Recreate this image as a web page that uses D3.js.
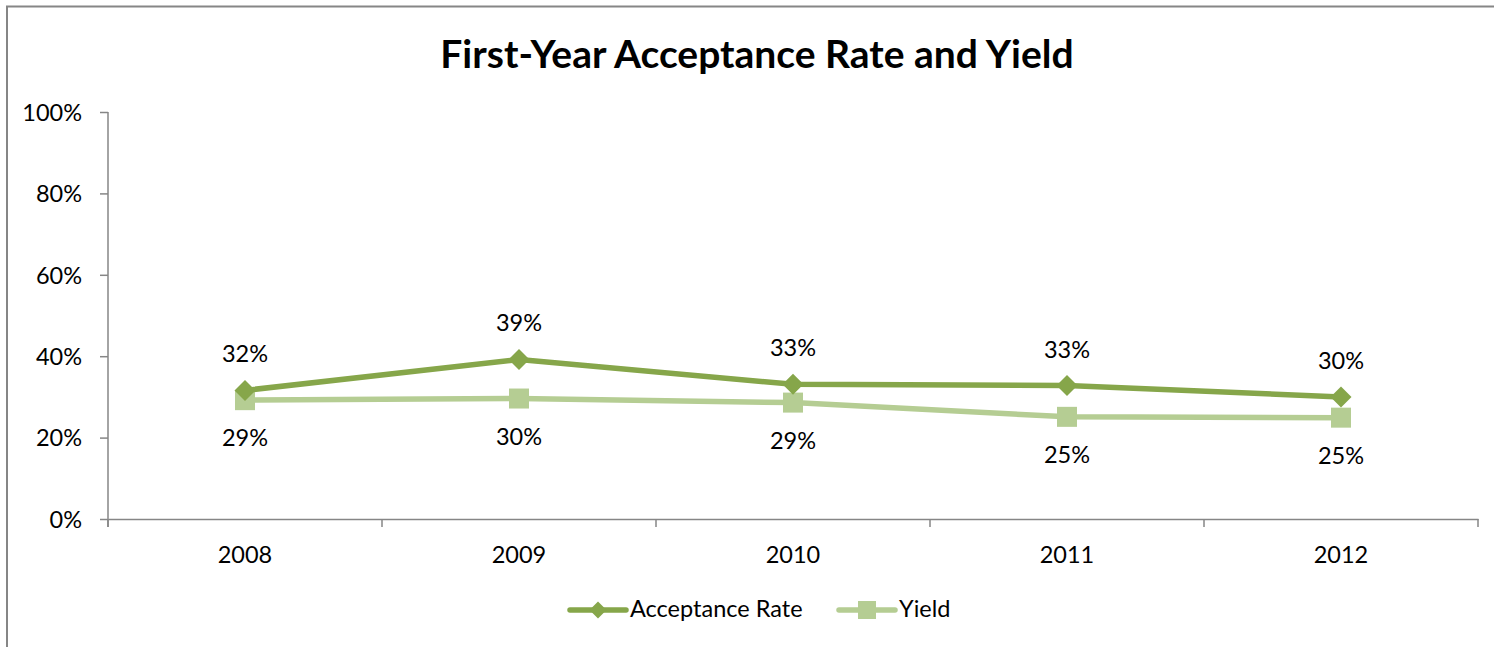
<!DOCTYPE html>
<html><head><meta charset="utf-8">
<script src="https://cdn.jsdelivr.net/npm/d3@7"></script>
<style>
body{margin:0;background:#fff}
svg{display:block}
text{font-family:Lato,'Open Sans',sans-serif;fill:#000}
</style></head>
<body><svg id="c" width="1494" height="647"></svg>
<script>
const title = "First-Year Acceptance Rate and Yield";
const years = ["2008","2009","2010","2011","2012"];
const acceptance = [0.316,0.392,0.331,0.328,0.300];
const yieldRate = [0.292,0.296,0.286,0.251,0.249];
const yTicks = [0,0.2,0.4,0.6,0.8,1.0];
const seriesNames = ["Acceptance Rate","Yield"];
const colors = ["#86A64A","#B5CD93"];

(function(){
const svg = d3.select("#c");
const pL = 108, pR = 1478, pT = 112, pB = 519;
const fs = "23.5px";

// chart border
svg.append("rect").attr("x",7).attr("y",6.5).attr("width",1500).attr("height",700)
  .attr("fill","#fff").attr("stroke","#868686").attr("stroke-width",2);

svg.append("text").attr("x",757).attr("y",68).attr("text-anchor","middle")
  .style("font-size","39px").style("font-weight","bold").text(title);

const x = d3.scaleBand().domain(years).range([pL,pR]);
const y = d3.scaleLinear().domain([0,1]).range([pB,pT]);
const cx = d => x(d) + x.bandwidth()/2;
const fmt = d3.format(".0%");

// y axis
const yAxis = svg.append("g").attr("transform",`translate(${pL},0)`)
  .call(d3.axisLeft(y).tickValues(yTicks).tickFormat(fmt).tickSize(8).tickPadding(18));
yAxis.select(".domain").remove();
yAxis.selectAll(".tick line").attr("stroke","#868686").attr("stroke-width",1.5);
yAxis.selectAll(".tick text").style("font-size",fs).attr("dy","0.35em");
svg.append("line").attr("x1",pL).attr("x2",pL).attr("y1",pT).attr("y2",pB+8)
  .attr("stroke","#868686").attr("stroke-width",1.5);

// x axis
const xAxis = svg.append("g").attr("transform",`translate(0,${pB})`)
  .call(d3.axisBottom(x).tickSize(0).tickPadding(27));
xAxis.select(".domain").attr("stroke","#868686").attr("stroke-width",1.5);
xAxis.selectAll(".tick text").style("font-size",fs);
const bounds = years.map(d => x(d)).concat([pR]);
svg.append("g").selectAll("line").data(bounds).join("line")
  .attr("x1",d=>d).attr("x2",d=>d).attr("y1",pB).attr("y2",pB+8)
  .attr("stroke","#868686").attr("stroke-width",1.5);

const line = d3.line().x((d,i)=>cx(years[i])).y(d=>y(d));

// yield series
svg.append("path").datum(yieldRate).attr("d",line).attr("fill","none")
  .attr("stroke",colors[1]).attr("stroke-width",5.5).attr("stroke-linejoin","round");
svg.append("g").selectAll("rect").data(yieldRate).join("rect")
  .attr("x",(d,i)=>cx(years[i])-10).attr("y",d=>y(d)-10).attr("width",20).attr("height",20)
  .attr("fill",colors[1]);

// acceptance series
svg.append("path").datum(acceptance).attr("d",line).attr("fill","none")
  .attr("stroke",colors[0]).attr("stroke-width",5.5).attr("stroke-linejoin","round");
const diamond = s => `M0,${-s}L${s},0L0,${s}L${-s},0Z`;
svg.append("g").selectAll("path").data(acceptance).join("path")
  .attr("transform",(d,i)=>`translate(${cx(years[i])},${y(d)})`)
  .attr("d",diamond(10.5)).attr("fill",colors[0]);

// labels
svg.append("g").selectAll("text").data(acceptance).join("text")
  .attr("x",(d,i)=>cx(years[i])).attr("y",d=>y(d)-28).attr("text-anchor","middle")
  .style("font-size",fs).text(d=>fmt(d));
svg.append("g").selectAll("text").data(yieldRate).join("text")
  .attr("x",(d,i)=>cx(years[i])).attr("y",d=>y(d)+46).attr("text-anchor","middle")
  .style("font-size",fs).text(d=>fmt(d));

// legend
const lg = svg.append("g");
const legY = 610;
const items = [{x0:570, name:seriesNames[0], c:colors[0], type:"d"},
               {x0:839, name:seriesNames[1], c:colors[1], type:"s"}];
items.forEach(it=>{
  lg.append("line").attr("x1",it.x0).attr("x2",it.x0+56).attr("y1",legY).attr("y2",legY)
    .attr("stroke",it.c).attr("stroke-width",5.5).attr("stroke-linecap","round");
  if(it.type==="d"){
    lg.append("path").attr("transform",`translate(${it.x0+28},${legY})`).attr("d",diamond(8.5)).attr("fill",it.c);
  } else {
    lg.append("rect").attr("x",it.x0+28-9).attr("y",legY-9).attr("width",18).attr("height",18).attr("fill",it.c);
  }
  lg.append("text").attr("x",it.x0+60).attr("y",617).style("font-size",fs).text(it.name);
});
})();
</script></body></html>
